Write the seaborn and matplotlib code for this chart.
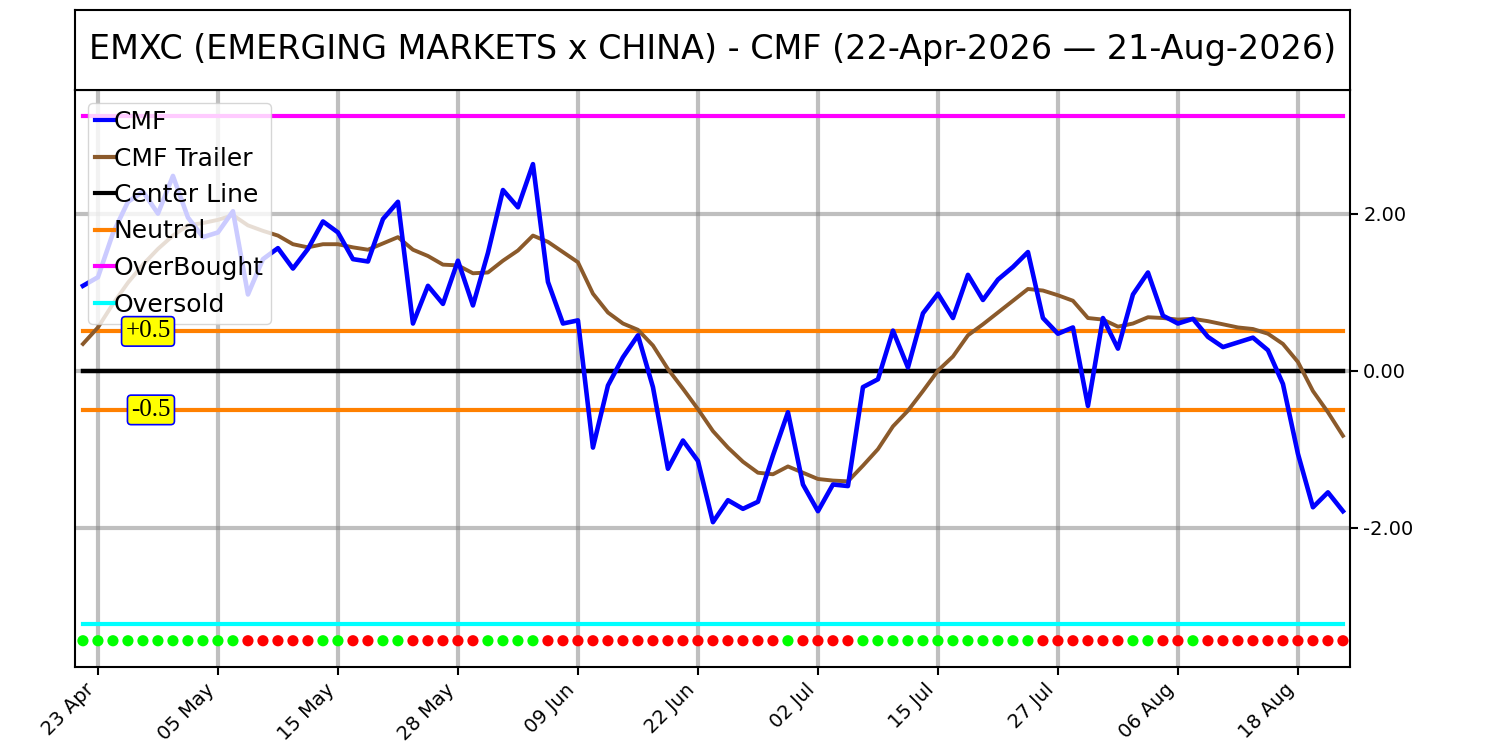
import numpy as np
import pandas as pd
import matplotlib
matplotlib.use('Agg')
import matplotlib.pyplot as plt
import seaborn as sns

# trading days 22 Apr - 21 Aug 2026 (NYSE holidays removed)
dates = pd.bdate_range('2026-04-22', '2026-08-21', freq='C',
                       holidays=['2026-05-25', '2026-06-19', '2026-07-03'])

cmf = [1.08, 1.19, 1.75, 2.15, 2.28, 2.00, 2.48, 1.95, 1.70, 1.76,
       2.03, 0.97, 1.42, 1.56, 1.30, 1.55, 1.90, 1.76, 1.42, 1.39,
       1.93, 2.15, 0.60, 1.08, 0.85, 1.40, 0.83, 1.50, 2.30, 2.08,
       2.63, 1.13, 0.60, 0.64, -0.98, -0.19, 0.17, 0.45, -0.21, -1.25,
       -0.89, -1.15, -1.93, -1.65, -1.76, -1.67, -1.08, -0.53, -1.45, -1.79,
       -1.45, -1.47, -0.21, -0.11, 0.51, 0.04, 0.73, 0.98, 0.67, 1.22,
       0.90, 1.16, 1.32, 1.51, 0.67, 0.47, 0.55, -0.45, 0.67, 0.28,
       0.97, 1.25, 0.70, 0.60, 0.66, 0.43, 0.30, 0.36, 0.42, 0.26,
       -0.17, -1.06, -1.74, -1.55, -1.79]

trailer = [0.34, 0.55, 0.85, 1.12, 1.35, 1.55, 1.72, 1.85, 1.88, 1.92,
           1.98, 1.85, 1.78, 1.72, 1.61, 1.57, 1.61, 1.61, 1.57, 1.54,
           1.62, 1.70, 1.54, 1.46, 1.35, 1.34, 1.24, 1.25, 1.40, 1.53,
           1.72, 1.64, 1.51, 1.38, 0.98, 0.74, 0.60, 0.52, 0.32, 0.02,
           -0.23, -0.49, -0.77, -0.98, -1.16, -1.30, -1.32, -1.22, -1.30, -1.38,
           -1.40, -1.41, -1.21, -1.00, -0.71, -0.51, -0.26, 0.00, 0.18, 0.45,
           0.59, 0.74, 0.89, 1.04, 1.02, 0.96, 0.89, 0.67, 0.65, 0.56,
           0.60, 0.68, 0.67, 0.65, 0.66, 0.63, 0.59, 0.55, 0.53, 0.47,
           0.34, 0.11, -0.26, -0.53, -0.83]

# G = buy signal dot, R = sell signal dot
signal = list("GGGGGGGGGGG" "RRRRR" "GG" "RR" "GG" "RRRRR" "GGGG"
              "RRRRRRRRRRRRRRRR" "G" "RRRR" "GGGGGGGGGGGG" "RRRRRR"
              "GG" "RR" "G" "RRRRRRRRRR")

center_level = 0.0
neutral_level = 0.5
overbought_level = 3.24
oversold_level = -3.23
dot_level = -3.44

n = len(cmf)
idx = np.arange(n)
tick_idx = idx[1::8]
tick_labels = [d.strftime('%d %b') for d in dates[1::8]]

fig = plt.figure(figsize=(15, 7.5), dpi=100)
ax = fig.add_axes([0.05, 0.1107, 0.85, 0.7693])
tax = fig.add_axes([0.05, 0.88, 0.85, 0.1067])

sns.lineplot(x=idx, y=cmf, color='blue', linewidth=3.3, label='CMF', ax=ax, zorder=5)
sns.lineplot(x=idx, y=trailer, color='#8b5a2b', linewidth=2.8, label='CMF Trailer', ax=ax, zorder=4)
sns.lineplot(x=idx, y=np.full(n, center_level), color='black', linewidth=3.2, label='Center Line', ax=ax, zorder=3)
sns.lineplot(x=idx, y=np.full(n, neutral_level), color='#ff8000', linewidth=3, label='Neutral', ax=ax, zorder=3)
sns.lineplot(x=idx, y=np.full(n, -neutral_level), color='#ff8000', linewidth=3, ax=ax, zorder=3)
sns.lineplot(x=idx, y=np.full(n, overbought_level), color='magenta', linewidth=3, label='OverBought', ax=ax, zorder=3)
sns.lineplot(x=idx, y=np.full(n, oversold_level), color='cyan', linewidth=3, label='Oversold', ax=ax, zorder=3)

sig_df = pd.DataFrame({'x': idx, 'y': np.full(n, dot_level), 'sig': signal})
sns.scatterplot(data=sig_df, x='x', y='y', hue='sig', palette={'G': '#00ff00', 'R': '#ff0000'},
                s=65, linewidth=0, legend=False, ax=ax, zorder=5)

# level labels
box = dict(boxstyle='round,pad=0.15', facecolor='yellow', edgecolor='blue', linewidth=1.2)
ax.text(5.85, neutral_level, '+0.5', ha='right', va='center', fontsize=18,
        family='Liberation Serif', bbox=box, zorder=6)
ax.text(5.85, -neutral_level, '-0.5', ha='right', va='center', fontsize=18,
        family='Liberation Serif', bbox=box, zorder=6)

ax.set_xlim(-0.53, n - 0.53)
ax.set_xticks(tick_idx)
ax.set_xticklabels(tick_labels, rotation=45, ha='right', fontsize=14)
ax.set_yticks([-2, 0, 2])
ax.set_yticklabels(['%.2f' % v for v in [-2, 0, 2]], fontsize=14)
ax.yaxis.tick_right()
ax.tick_params(length=6, width=1.5)
ax.grid(True, color='gray', alpha=0.5, linewidth=3)
ax.set_axisbelow(True)
ax.set_xlabel('')
ax.set_ylabel('')
for sp in ax.spines.values():
    sp.set_linewidth(1.5)

leg = ax.legend(loc='upper left', fontsize=18, handlelength=0.75, handletextpad=0.0,
                borderpad=0.3, labelspacing=0.5)
for h in leg.get_lines():
    h.set_linewidth(3)

tax.set_xticks([])
tax.set_yticks([])
for sp in tax.spines.values():
    sp.set_linewidth(1.5)
tax.text(0.5, 0.5, 'EMXC (EMERGING MARKETS x CHINA) - CMF (22-Apr-2026 \u2014 21-Aug-2026)',
         ha='center', va='center', fontsize=24, transform=tax.transAxes)

fig.savefig('out.png', dpi=100)
